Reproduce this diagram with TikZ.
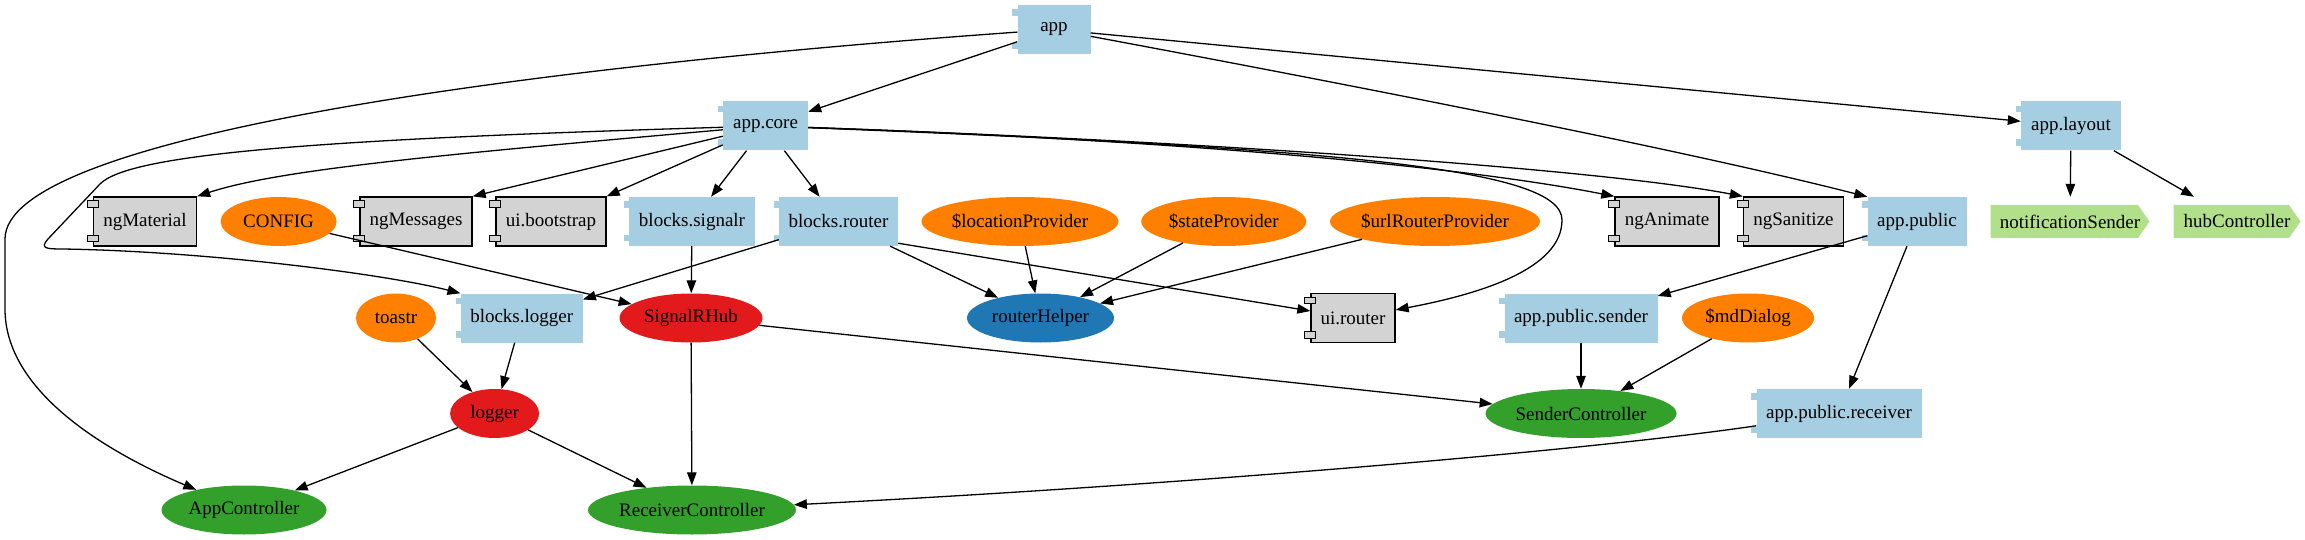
\documentclass[tikz,border=0pt]{standalone}
\usepackage{fontspec}
\setmainfont{Liberation Serif}
\usetikzlibrary{arrows.meta,shapes.geometric}
\definecolor{modblue}{HTML}{A6CEE3}
\definecolor{extgray}{HTML}{D3D3D3}
\definecolor{provorange}{HTML}{FF7F00}
\definecolor{svcred}{HTML}{E31A1C}
\definecolor{ctrlgreen}{HTML}{33A02C}
\definecolor{helperblue}{HTML}{1F78B4}
\definecolor{viewgreen}{HTML}{B2DF8A}
\tikzset{
  dep/.style={-{Triangle[length=13pt,width=9.5pt]}, line width=1.3pt, draw=black},
  modbox/.style={
    rectangle, fill=modblue, inner sep=0pt,
    minimum height=49pt
  },
  extbox/.style={
    rectangle, draw=black, line width=1.3pt, fill=extgray,
    inner sep=0pt, minimum height=49pt
  },
  provell/.style={ellipse, fill=provorange, inner sep=0pt, minimum height=49pt},
  svcell/.style={ellipse, fill=svcred, inner sep=0pt, minimum height=49pt},
  ctrlell/.style={ellipse, fill=ctrlgreen, inner sep=0pt, minimum height=49pt},
  helperell/.style={ellipse, fill=helperblue, inner sep=0pt, minimum height=49pt},
  viewtag/.style={
    rectangle, inner sep=0pt, minimum height=49pt,
    path picture={
      \fill[viewgreen]
        ([yshift=-8pt]path picture bounding box.north west) --
        ([xshift=-11.5pt,yshift=-8pt]path picture bounding box.north east) --
        (path picture bounding box.east) --
        ([xshift=-11.5pt,yshift=8pt]path picture bounding box.south east) --
        ([yshift=8pt]path picture bounding box.south west) -- cycle;
    }
  },
  tabgray/.style={draw=black, line width=1pt, fill=extgray}
}

\begin{document}
\begin{tikzpicture}[x=1pt, y=1pt, font=\fontsize{19pt}{23pt}\selectfont]

\useasboundingbox (0,0) rectangle (2305,539);

%--------------------------------------------------
% Modules
%--------------------------------------------------
\node[modbox, minimum width=73pt] (app) at (1054,509.5) {app};

\node[modbox, minimum width=85pt] (appcore) at (765.5,413) {app.core};
\node[modbox, minimum width=100pt] (applayout) at (2071,413) {app.layout};

\node[extbox, minimum width=103pt] (ngmaterial) at (145,317.5) {ngMaterial};
\node[provell, minimum width=116pt] (config) at (278.6,317.5) {CONFIG};
\node[extbox, minimum width=112pt] (ngmessages) at (416,317.5) {ngMessages};
\node[extbox, minimum width=110pt] (uibootstrap) at (551,317.5) {ui.bootstrap};
\node[modbox, minimum width=126pt] (blockssignalr) at (692,317.5) {blocks.signalr};
\node[modbox, minimum width=119pt] (blocksrouter) at (838.5,317.5) {blocks.router};
\node[provell, minimum width=197pt] (locprov) at (1020,317.5) {\$locationProvider};
\node[provell, minimum width=165pt] (stateprov) at (1223.7,317.5) {\$stateProvider};
\node[provell, minimum width=210pt] (urlprov) at (1435,317.5) {\$urlRouterProvider};
\node[extbox, minimum width=104pt] (nganimate) at (1667,317.5) {ngAnimate};
\node[extbox, minimum width=100pt] (ngsanitize) at (1793.5,317.5) {ngSanitize};
\node[modbox, minimum width=99pt] (apppublic) at (1917,317.5) {app.public};
\node[viewtag, minimum width=159pt] (notifsender) at (2070,317.5) {notificationSender};
\node[viewtag, minimum width=127pt] (hubctrl) at (2237,317.5) {hubController};

\node[provell, minimum width=80pt] (toastr) at (396,221) {toastr};
\node[modbox, minimum width=122pt] (blockslogger) at (521.7,221) {blocks.logger};
\node[svcell, minimum width=143pt] (signalrhub) at (691,221) {SignalRHub};
\node[helperell, minimum width=147pt] (routerhelper) at (1040.5,221) {routerHelper};
\node[extbox, minimum width=84pt] (uirouter) at (1353,221) {ui.router};
\node[modbox, minimum width=153pt] (pubsender) at (1581,221) {app.public.sender};
\node[provell, minimum width=132pt] (mddialog) at (1748,221) {\$mdDialog};

\node[svcell, minimum width=89pt] (logger) at (494.6,125.5) {logger};
\node[ctrlell, minimum width=191pt] (senderctrl) at (1581,125.5) {SenderController};
\node[modbox, minimum width=165pt] (pubreceiver) at (1839,125.5) {app.public.receiver};

\node[ctrlell, minimum width=165pt] (appctrl) at (244,29) {AppController};
\node[ctrlell, minimum width=208pt] (receiverctrl) at (692,29) {ReceiverController};

% component tabs
\foreach \n in {app,appcore,applayout,blockssignalr,blocksrouter,apppublic,blockslogger,pubsender,pubreceiver} {
  \fill[modblue] ([xshift=-5pt,yshift=-4.5pt]\n.north west) rectangle ++(6,-6.5);
  \fill[modblue] ([xshift=-5pt,yshift=5pt]\n.south west) rectangle ++(6,6.5);
}
\foreach \n in {ngmaterial,ngmessages,uibootstrap,nganimate,ngsanitize,uirouter} {
  \draw[tabgray] ([xshift=-5.5pt,yshift=-4.5pt]\n.north west) rectangle ++(11,-6.5);
  \draw[tabgray] ([xshift=-5.5pt,yshift=5pt]\n.south west) rectangle ++(11,6.5);
}

%--------------------------------------------------
% Dependencies of app
%--------------------------------------------------
\draw[dep] (app) -- (appcore);
\draw[dep] (app) -- (applayout);
\draw[dep] (app) .. controls (1400,445) and (1700,385) .. (apppublic.north west);
\draw[dep] (app) .. controls (500,470) and (5,400) .. (5,300) -- (5,230)
                 .. controls (5,150) and (100,90) .. (appctrl);

%--------------------------------------------------
% Dependencies of app.core
%--------------------------------------------------
\draw[dep] (appcore) .. controls (450,385) and (280,370) .. (ngmaterial.north east);
\draw[dep] (appcore) -- (ngmessages.north east);
\draw[dep] (appcore) -- (uibootstrap.north east);
\draw[dep] (appcore) -- (blockssignalr);
\draw[dep] (appcore) -- (blocksrouter);
\draw[dep] (appcore) .. controls (1150,400) and (1450,375) .. (nganimate.north west);
\draw[dep] (appcore) .. controls (1200,398) and (1600,370) .. (ngsanitize.north west);
\draw[dep] (appcore) .. controls (1350,390) and (1562,370) .. (1562,319)
                     .. controls (1562,270) and (1480,245) .. (uirouter);
\draw[dep] (appcore) .. controls (330,400) and (130,386) .. (100,355) -- (48,300)
                     .. controls (40,291) and (45,290) .. (62,290)
                     .. controls (200,288) and (380,266) .. (blockslogger.north west);

%--------------------------------------------------
% Blocks and providers
%--------------------------------------------------
\draw[dep] (config) -- (signalrhub);
\draw[dep] (blockssignalr) -- (signalrhub);
\draw[dep] (blocksrouter) -- (blockslogger);
\draw[dep] (blocksrouter) -- (routerhelper);
\draw[dep] (blocksrouter.-20) -- (uirouter);
\draw[dep] (locprov) -- (routerhelper);
\draw[dep] (stateprov) -- (routerhelper);
\draw[dep] (urlprov) -- (routerhelper);

\draw[dep] (toastr) -- (logger);
\draw[dep] (blockslogger) -- (logger);
\draw[dep] (logger) -- (appctrl);
\draw[dep] (logger) -- (receiverctrl);
\draw[dep] (signalrhub) -- (senderctrl);
\draw[dep] (signalrhub) -- (receiverctrl);

%--------------------------------------------------
% app.public and app.layout
%--------------------------------------------------
\draw[dep] (apppublic) -- (pubsender);
\draw[dep] (apppublic) -- (pubreceiver);
\draw[dep] (pubsender) -- (senderctrl);
\draw[dep] (mddialog) -- (senderctrl);
\draw[dep] (pubreceiver) .. controls (1600,90) and (1200,55) .. (receiverctrl);

\draw[dep] (applayout) -- (notifsender);
\draw[dep] (applayout) -- (hubctrl);

\end{tikzpicture}
\end{document}
